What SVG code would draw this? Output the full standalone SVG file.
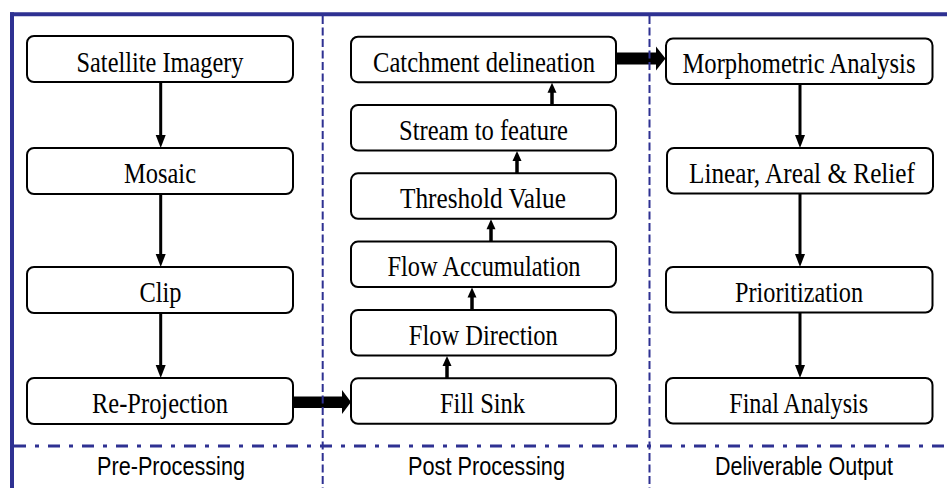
<svg xmlns="http://www.w3.org/2000/svg" width="947" height="488" viewBox="0 0 947 488">
<style>
.box{fill:#fff;stroke:#000;stroke-width:2}
.lbl{font-family:"Liberation Serif","Times New Roman",serif;font-size:30px;fill:#000;text-anchor:middle}
.ftr{font-family:"Liberation Sans",Arial,sans-serif;font-size:25px;fill:#000;text-anchor:middle}
.down{stroke:#000;stroke-width:3;fill:none;marker-end:url(#ah)}
.up{stroke:#000;stroke-width:3.5;fill:none;marker-end:url(#ahs)}
.fat{fill:#000;stroke:none}
.frame{stroke:#2E3192;fill:none}
</style>
<defs>
<marker id="ah" markerUnits="userSpaceOnUse" markerWidth="13" markerHeight="10" refX="7" refY="5" orient="auto" overflow="visible"><path d="M0,0 L13,5 L0,10 Z" fill="#000"/></marker>
<marker id="ahs" markerUnits="userSpaceOnUse" markerWidth="10" markerHeight="9" refX="5" refY="4.5" orient="auto" overflow="visible"><path d="M0,0 L10,4.5 L0,9 Z" fill="#000"/></marker>
</defs>
<rect width="947" height="488" fill="#fff"/>

<g id="connectors">
<line class="down" x1="160.7" y1="82" x2="160.7" y2="142"/>
<line class="down" x1="160.7" y1="194" x2="160.7" y2="261"/>
<line class="down" x1="160.7" y1="313" x2="160.7" y2="372"/>
<line class="down" x1="800" y1="84" x2="800" y2="142"/>
<line class="down" x1="800" y1="193.5" x2="800" y2="261"/>
<line class="down" x1="800" y1="312.5" x2="800" y2="372"/>
<line class="up" x1="447" y1="378.3" x2="447" y2="361"/>
<line class="up" x1="472" y1="310" x2="472" y2="292.5"/>
<line class="up" x1="491" y1="241.6" x2="491" y2="224.3"/>
<line class="up" x1="517" y1="173.3" x2="517" y2="156"/>
<line class="up" x1="552" y1="105" x2="552" y2="87.7"/>
<path class="fat" d="M293,396.5 L342,396.5 L342,390 L351,402 L342,414 L342,408 L293,408 Z"/>
<path class="fat" d="M616,52.5 L656,52.5 L656,46.5 L665.5,58.5 L656,70.5 L656,64.5 L616,64.5 Z"/>
</g>

<g id="frame">
<line class="frame" x1="10" y1="14.3" x2="947" y2="14.3" stroke-width="4"/>
<line class="frame" x1="12" y1="12.3" x2="12" y2="488" stroke-width="4"/>
<line class="frame" x1="322.7" y1="16" x2="322.7" y2="488" stroke-width="2" stroke-dasharray="8 3.5"/>
<line class="frame" x1="649.5" y1="16" x2="649.5" y2="488" stroke-width="2" stroke-dasharray="8 3.5"/>
<line class="frame" x1="14" y1="446" x2="947" y2="446" stroke-width="2.8" stroke-dasharray="12 9 4 9"/>
</g>

<g id="n-satellite"><rect class="box" x="27" y="36" width="266" height="46" rx="7"/><text class="lbl" transform="translate(160,71.5) scale(0.84,1)" textLength="198.8" lengthAdjust="spacingAndGlyphs">Satellite Imagery</text></g>
<g id="n-mosaic"><rect class="box" x="27" y="148" width="266" height="46" rx="7"/><text class="lbl" transform="translate(160,183) scale(0.84,1)" textLength="85.7" lengthAdjust="spacingAndGlyphs">Mosaic</text></g>
<g id="n-clip"><rect class="box" x="27" y="267" width="266" height="46" rx="7"/><text class="lbl" transform="translate(160.5,302) scale(0.84,1)" textLength="50" lengthAdjust="spacingAndGlyphs">Clip</text></g>
<g id="n-reprojection"><rect class="box" x="27" y="378" width="266" height="46" rx="7"/><text class="lbl" transform="translate(160,413) scale(0.84,1)" textLength="161.9" lengthAdjust="spacingAndGlyphs">Re-Projection</text></g>

<g id="n-catchment"><rect class="box" x="351" y="36.7" width="265" height="45.5" rx="7"/><text class="lbl" transform="translate(484,71.5) scale(0.84,1)" textLength="264.3" lengthAdjust="spacingAndGlyphs">Catchment delineation</text></g>
<g id="n-stream"><rect class="box" x="351" y="105" width="265" height="45.5" rx="7"/><text class="lbl" transform="translate(483.5,139.8) scale(0.84,1)" textLength="201.2" lengthAdjust="spacingAndGlyphs">Stream to feature</text></g>
<g id="n-threshold"><rect class="box" x="351" y="173.3" width="265" height="45.5" rx="7"/><text class="lbl" transform="translate(483,208) scale(0.84,1)" textLength="197.6" lengthAdjust="spacingAndGlyphs">Threshold Value</text></g>
<g id="n-flowacc"><rect class="box" x="351" y="241.6" width="265" height="45.5" rx="7"/><text class="lbl" transform="translate(484,276.4) scale(0.84,1)" textLength="229.8" lengthAdjust="spacingAndGlyphs">Flow Accumulation</text></g>
<g id="n-flowdir"><rect class="box" x="351" y="310" width="265" height="45.5" rx="7"/><text class="lbl" transform="translate(483.3,344.8) scale(0.84,1)" textLength="177.4" lengthAdjust="spacingAndGlyphs">Flow Direction</text></g>
<g id="n-fillsink"><rect class="box" x="351" y="378.3" width="265" height="45.5" rx="7"/><text class="lbl" transform="translate(482.5,413) scale(0.84,1)" textLength="101.2" lengthAdjust="spacingAndGlyphs">Fill Sink</text></g>

<g id="n-morphometric"><rect class="box" x="666" y="38.5" width="266.5" height="45.5" rx="7"/><text class="lbl" transform="translate(799,73) scale(0.84,1)" textLength="277.4" lengthAdjust="spacingAndGlyphs">Morphometric Analysis</text></g>
<g id="n-linear"><rect class="box" x="667" y="148" width="266" height="45.5" rx="7"/><text class="lbl" transform="translate(802,182.7) scale(0.84,1)" textLength="269" lengthAdjust="spacingAndGlyphs">Linear, Areal &amp; Relief</text></g>
<g id="n-prioritization"><rect class="box" x="666" y="267" width="266.5" height="45.5" rx="7"/><text class="lbl" transform="translate(799,301.7) scale(0.84,1)" textLength="152.4" lengthAdjust="spacingAndGlyphs">Prioritization</text></g>
<g id="n-final"><rect class="box" x="666" y="378" width="266.5" height="45.5" rx="7"/><text class="lbl" transform="translate(798.7,412.7) scale(0.84,1)" textLength="165.5" lengthAdjust="spacingAndGlyphs">Final Analysis</text></g>

<g id="footer">
<text class="ftr" transform="translate(171,474.5) scale(0.87,1)" textLength="170.1" lengthAdjust="spacingAndGlyphs">Pre-Processing</text>
<text class="ftr" transform="translate(486.5,474.5) scale(0.87,1)" textLength="180.5" lengthAdjust="spacingAndGlyphs">Post Processing</text>
<text class="ftr" transform="translate(804,474.5) scale(0.87,1)" textLength="204.6" lengthAdjust="spacingAndGlyphs">Deliverable Output</text>
</g>
</svg>
